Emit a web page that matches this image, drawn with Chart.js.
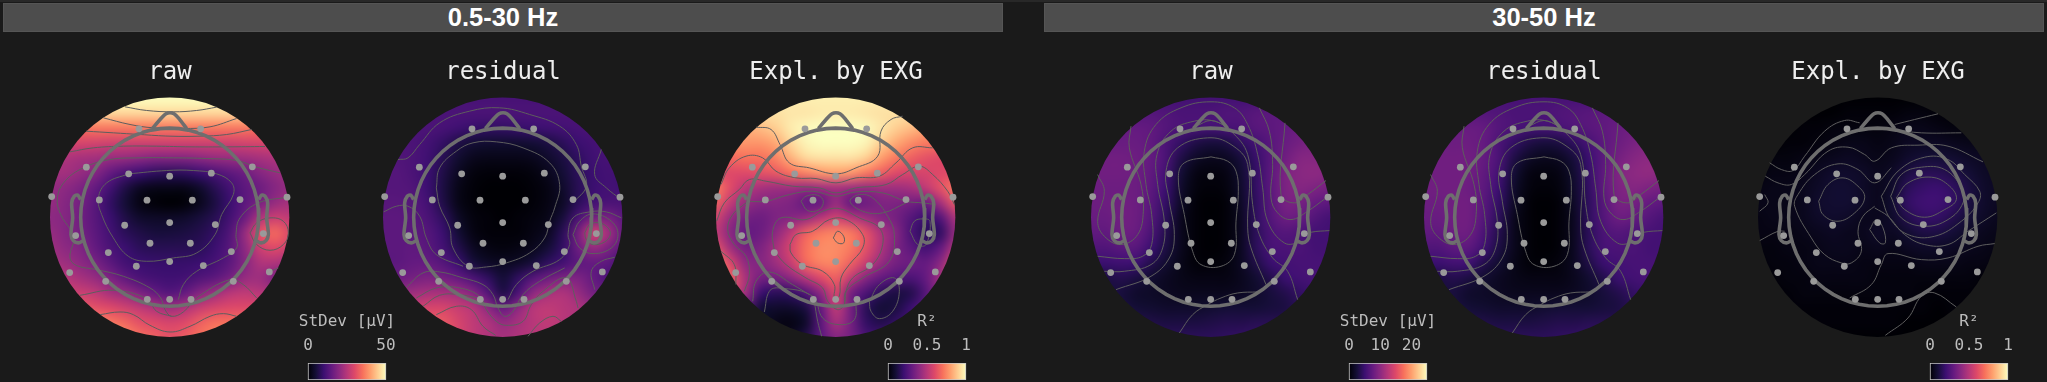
<!DOCTYPE html>
<html>
<head>
<meta charset="utf-8">
<title>EXG topomaps</title>
<script src="https://cdn.jsdelivr.net/npm/chart.js@4/dist/chart.umd.min.js"></script>
<style>
  html, body { margin: 0; padding: 0; background: #1a1a1a; }
  body { position: relative; width: 2047px; height: 382px; overflow: hidden; }
  canvas { position: absolute; }
  .band {
    position: absolute; top: 3px; height: 27px; padding: 0;
    background: #4d4d4d; border: 1px solid #555; box-sizing: content-box;
    color: #fff; text-align: center; font: bold 25.5px/27px "Liberation Sans", sans-serif;
  }
  #strip { position: absolute; left: 0; top: 0; width: 2047px; height: 2px; background: #282828; }
</style>
</head>
<body>
<div id="strip"></div>
<div class="band" style="left:3px;width:998px">0.5-30 Hz</div>
<div class="band" style="left:1044px;width:998px">30-50 Hz</div>

<script>
// all head coordinates are on a 0-780 grid (3 units per screen pixel), y going down
const gridCols = [30, 75, 120, 165, 210, 255, 300, 345, 390, 435, 480, 525, 570, 615, 660, 705, 750];
const gridRows = [30, 75, 120, 165, 210, 255, 300, 345, 390, 435, 480, 525, 570, 615, 660, 705, 750];

// sensor positions
const sensorX = [297, 482, 139, 266, 389, 514, 637, 35, 178, 321, 457, 600, 741, 107, 254, 389, 526, 670, 330, 451, 205, 574, 89, 289, 389, 490, 688, 197, 580, 322, 389, 453];
const sensorY = [123, 123, 238, 258, 265, 256, 237, 326, 336, 337, 337, 335, 328, 443, 412, 404, 410, 437, 466, 466, 494, 491, 554, 535, 521, 533, 552, 580, 580, 634, 634, 634];

// head drawing
const headCenter = [389, 388];
const headRadius = 267;
const scalpRadius = 359;
const nose = [[337, 122], [365, 90], [378, 78], [390, 75], [402, 78], [415, 90], [440, 122]];
const earLeft = [[122, 335], [113, 322], [103, 325], [95, 345], [98, 390], [93, 440], [100, 458], [115, 465], [130, 458]];
const earRight = [[656, 335], [665, 322], [675, 325], [683, 345], [680, 390], [685, 440], [678, 458], [663, 465], [648, 458]];

// heat values, % of the colorbar range, one row per gridRows entry
const gridRaw05 = [
  [100, 100, 100, 100, 100, 100, 100, 100, 100, 100, 100, 100, 100, 100, 100, 100, 100],
  [90, 90, 90, 91, 92, 92, 92, 92, 92, 92, 92, 92, 92, 91, 90, 90, 90],
  [70, 70, 70, 72, 72, 72, 72, 72, 72, 72, 72, 72, 72, 72, 70, 70, 70],
  [58, 58, 58, 57, 56, 56, 56, 56, 56, 56, 56, 56, 56, 57, 58, 58, 58],
  [48, 48, 46, 45, 43, 42, 40, 38, 38, 38, 40, 42, 43, 44, 46, 48, 48],
  [45, 45, 42, 38, 30, 24, 20, 17, 16, 17, 20, 24, 28, 32, 38, 42, 45],
  [42, 40, 36, 30, 22, 13, 6, 4, 4, 4, 8, 15, 22, 28, 32, 38, 42],
  [42, 38, 34, 27, 18, 10, 3, 1, 0, 1, 5, 12, 20, 28, 35, 42, 46],
  [40, 38, 33, 27, 20, 13, 8, 7, 7, 8, 11, 15, 22, 32, 48, 55, 52],
  [42, 38, 34, 28, 22, 16, 13, 11, 11, 12, 14, 18, 25, 42, 62, 68, 60],
  [44, 40, 37, 30, 24, 20, 16, 15, 15, 15, 16, 20, 27, 40, 55, 60, 55],
  [46, 44, 40, 35, 28, 22, 20, 19, 19, 19, 20, 23, 28, 38, 48, 48, 44],
  [50, 50, 46, 42, 36, 29, 24, 22, 21, 22, 25, 28, 34, 42, 44, 36, 36],
  [56, 56, 55, 52, 46, 42, 36, 30, 26, 30, 38, 44, 50, 52, 50, 48, 48],
  [65, 65, 65, 62, 60, 56, 52, 48, 44, 48, 54, 58, 60, 60, 60, 58, 58],
  [80, 80, 80, 78, 72, 68, 62, 60, 58, 60, 66, 70, 70, 72, 70, 70, 70],
  [85, 85, 85, 85, 82, 76, 70, 66, 62, 65, 70, 74, 76, 76, 76, 76, 76]
];
const gridResidual05 = [
  [23, 23, 23, 23, 23, 23, 23, 23, 23, 23, 23, 23, 23, 23, 23, 23, 23],
  [24, 24, 24, 24, 24, 24, 24, 24, 24, 24, 24, 24, 24, 24, 24, 24, 24],
  [24, 24, 24, 24, 23, 21, 19, 18, 18, 19, 20, 21, 22, 23, 24, 24, 24],
  [26, 25, 24, 22, 18, 13, 10, 9, 9, 9, 10, 12, 16, 20, 22, 24, 24],
  [25, 25, 24, 21, 15, 9, 5, 4, 4, 4, 5, 8, 12, 17, 21, 23, 22],
  [26, 26, 24, 20, 13, 6, 2, 1, 1, 1, 2, 5, 10, 16, 20, 22, 21],
  [26, 26, 25, 20, 12, 4, 1, 0, 0, 0, 1, 3, 8, 15, 20, 22, 21],
  [27, 27, 26, 22, 13, 4, 1, 0, 0, 0, 1, 3, 7, 16, 22, 24, 24],
  [28, 28, 27, 24, 17, 7, 2, 1, 0, 1, 2, 4, 11, 24, 34, 35, 28],
  [28, 28, 28, 26, 20, 10, 3, 1, 1, 1, 3, 6, 16, 34, 56, 45, 30],
  [28, 28, 29, 27, 22, 14, 6, 3, 2, 3, 5, 10, 18, 32, 42, 36, 28],
  [28, 28, 30, 30, 26, 20, 11, 7, 6, 7, 11, 17, 22, 28, 30, 28, 22],
  [32, 32, 34, 36, 34, 30, 24, 17, 10, 17, 26, 32, 36, 36, 30, 24, 24],
  [42, 42, 44, 46, 46, 44, 38, 26, 13, 24, 40, 46, 48, 42, 34, 32, 32],
  [55, 55, 55, 58, 58, 54, 50, 40, 30, 40, 50, 52, 50, 48, 42, 40, 40],
  [65, 65, 65, 65, 64, 58, 52, 48, 42, 46, 50, 52, 50, 46, 44, 44, 44],
  [72, 72, 72, 70, 64, 58, 52, 48, 46, 48, 50, 50, 48, 46, 46, 46, 46]
];
const gridExpl05 = [
  [97, 97, 97, 97, 97, 97, 97, 97, 97, 97, 97, 97, 97, 97, 97, 97, 97],
  [94, 94, 94, 94, 94, 95, 95, 96, 96, 96, 95, 94, 94, 94, 92, 90, 90],
  [84, 84, 84, 86, 90, 96, 99, 100, 100, 100, 99, 95, 90, 86, 82, 80, 80],
  [78, 78, 78, 78, 82, 92, 98, 100, 100, 100, 98, 90, 82, 76, 72, 72, 72],
  [68, 68, 70, 70, 74, 84, 92, 94, 94, 94, 90, 80, 72, 66, 62, 60, 60],
  [60, 60, 60, 62, 64, 70, 74, 78, 80, 78, 72, 66, 60, 58, 58, 60, 60],
  [72, 60, 50, 46, 44, 44, 42, 44, 46, 44, 42, 44, 44, 46, 52, 62, 72],
  [66, 52, 42, 38, 38, 36, 30, 30, 42, 30, 32, 36, 36, 34, 32, 46, 64],
  [56, 42, 34, 32, 36, 38, 42, 50, 56, 50, 44, 38, 34, 26, 20, 26, 48],
  [52, 38, 30, 32, 40, 52, 66, 72, 74, 72, 62, 48, 38, 24, 16, 18, 42],
  [62, 44, 34, 36, 46, 58, 70, 76, 76, 72, 62, 48, 36, 28, 22, 30, 50],
  [74, 58, 40, 38, 44, 54, 68, 74, 74, 66, 54, 42, 34, 32, 30, 40, 62],
  [76, 66, 46, 34, 34, 40, 50, 60, 66, 52, 38, 30, 26, 24, 30, 46, 68],
  [70, 60, 44, 20, 16, 18, 26, 40, 58, 34, 24, 16, 12, 14, 26, 44, 60],
  [70, 50, 30, 10, 8, 8, 12, 30, 52, 34, 16, 10, 12, 20, 30, 44, 50],
  [60, 40, 24, 10, 4, 3, 8, 28, 46, 34, 18, 14, 18, 24, 30, 40, 40],
  [40, 30, 20, 14, 6, 6, 14, 28, 38, 34, 24, 22, 24, 26, 30, 36, 36]
];
const gridRaw30 = [
  [22, 22, 22, 22, 22, 22, 22, 22, 22, 22, 22, 22, 22, 22, 22, 22, 22],
  [26, 26, 26, 26, 26, 25, 24, 24, 24, 25, 25, 27, 28, 28, 28, 28, 28],
  [30, 30, 30, 30, 29, 26, 24, 23, 22, 23, 24, 27, 28, 30, 32, 34, 34],
  [31, 31, 31, 31, 29, 24, 18, 13, 11, 12, 17, 22, 27, 31, 34, 36, 36],
  [33, 33, 33, 32, 30, 24, 13, 7, 5, 6, 11, 19, 27, 33, 38, 38, 38],
  [33, 33, 33, 32, 29, 22, 10, 3, 2, 3, 9, 18, 28, 36, 39, 40, 38],
  [32, 32, 32, 32, 28, 20, 8, 2, 1, 2, 8, 18, 28, 36, 38, 36, 34],
  [32, 32, 33, 32, 27, 18, 7, 1, 0, 1, 7, 17, 27, 35, 34, 30, 28],
  [31, 31, 33, 32, 26, 16, 5, 1, 0, 1, 6, 17, 26, 32, 30, 25, 22],
  [29, 29, 32, 31, 24, 14, 5, 1, 0, 1, 6, 16, 24, 26, 24, 22, 22],
  [25, 25, 27, 27, 20, 12, 5, 1, 0, 1, 6, 16, 23, 24, 24, 22, 22],
  [20, 20, 21, 20, 14, 9, 4, 1, 1, 2, 6, 13, 20, 22, 23, 23, 23],
  [12, 12, 14, 12, 9, 6, 4, 3, 3, 3, 5, 9, 14, 20, 22, 23, 23],
  [12, 12, 11, 8, 7, 6, 5, 5, 5, 5, 6, 8, 11, 14, 18, 20, 20],
  [14, 14, 12, 10, 9, 8, 8, 8, 9, 10, 10, 10, 11, 12, 16, 18, 18],
  [16, 16, 16, 14, 13, 12, 12, 12, 13, 14, 14, 15, 15, 15, 16, 16, 16],
  [18, 18, 18, 16, 16, 16, 16, 16, 16, 17, 18, 18, 18, 18, 18, 18, 18]
];
const gridResidual30 = [
  [23, 23, 23, 23, 23, 23, 23, 23, 23, 23, 23, 23, 23, 23, 23, 23, 23],
  [27, 27, 27, 27, 26, 25, 24, 24, 24, 25, 26, 27, 28, 29, 29, 29, 29],
  [31, 31, 31, 31, 30, 26, 24, 22, 22, 23, 25, 27, 29, 31, 33, 35, 35],
  [32, 32, 32, 32, 30, 24, 18, 13, 11, 12, 17, 23, 28, 32, 35, 37, 37],
  [33, 33, 33, 33, 30, 24, 13, 7, 5, 6, 11, 20, 28, 34, 38, 40, 40],
  [33, 33, 33, 33, 29, 22, 10, 3, 2, 3, 9, 19, 29, 37, 40, 41, 39],
  [33, 33, 33, 32, 28, 20, 8, 2, 1, 2, 8, 18, 29, 36, 38, 36, 34],
  [32, 32, 33, 33, 27, 18, 7, 1, 0, 1, 7, 17, 27, 35, 34, 30, 28],
  [31, 31, 33, 33, 26, 16, 5, 1, 0, 1, 6, 17, 26, 32, 30, 26, 23],
  [29, 29, 32, 32, 24, 14, 5, 1, 0, 1, 6, 16, 24, 26, 24, 23, 22],
  [25, 25, 28, 28, 21, 12, 5, 1, 0, 1, 6, 16, 23, 24, 24, 22, 22],
  [20, 20, 22, 21, 14, 9, 4, 1, 1, 2, 6, 13, 20, 22, 23, 23, 23],
  [12, 12, 14, 12, 9, 6, 4, 3, 3, 3, 5, 9, 14, 20, 22, 23, 23],
  [12, 12, 11, 8, 7, 6, 5, 5, 5, 5, 6, 8, 11, 14, 18, 20, 20],
  [14, 14, 12, 10, 9, 8, 8, 8, 9, 10, 10, 10, 11, 12, 16, 18, 18],
  [16, 16, 16, 14, 13, 12, 12, 12, 13, 14, 14, 15, 15, 15, 16, 16, 16],
  [18, 18, 18, 16, 16, 16, 16, 16, 16, 17, 18, 18, 18, 18, 18, 18, 18]
];
const gridExpl30 = [
  [0, 0, 0, 0, 0, 0, 0, 0, 0, 0, 0, 0, 0, 0, 0, 0, 0],
  [0, 0, 0, 0, 0, 0, 1, 1, 1, 1, 2, 2, 1, 1, 1, 1, 1],
  [0, 0, 0, 1, 1, 2, 2, 2, 2, 3, 4, 4, 3, 2, 2, 2, 2],
  [0, 0, 1, 1, 2, 3, 4, 4, 3, 4, 6, 6, 6, 5, 4, 4, 4],
  [1, 2, 2, 3, 4, 5, 6, 5, 4, 5, 8, 10, 10, 9, 7, 6, 5],
  [2, 3, 3, 4, 6, 8, 8, 7, 5, 7, 12, 15, 15, 13, 10, 7, 6],
  [3, 4, 4, 5, 7, 9, 9, 7, 5, 8, 16, 19, 20, 17, 12, 8, 6],
  [4, 4, 4, 5, 8, 9, 9, 7, 5, 9, 18, 21, 21, 18, 12, 8, 6],
  [3, 4, 4, 5, 7, 8, 7, 5, 5, 8, 14, 18, 18, 14, 10, 7, 5],
  [3, 3, 3, 4, 5, 6, 5, 5, 7, 6, 9, 12, 12, 10, 7, 5, 4],
  [2, 2, 3, 3, 4, 5, 5, 4, 5, 4, 6, 7, 7, 6, 5, 4, 3],
  [1, 2, 2, 3, 4, 4, 4, 3, 3, 3, 3, 4, 4, 4, 3, 3, 2],
  [1, 1, 2, 2, 3, 3, 3, 3, 2, 2, 2, 2, 2, 2, 2, 1, 1],
  [1, 1, 1, 2, 2, 2, 2, 2, 2, 2, 2, 1, 1, 1, 1, 1, 1],
  [0, 1, 1, 1, 1, 1, 1, 1, 1, 1, 1, 1, 0, 1, 1, 1, 0],
  [0, 0, 0, 0, 1, 1, 1, 1, 1, 1, 0, 0, 0, 0, 0, 0, 0],
  [0, 0, 0, 0, 0, 0, 0, 0, 0, 0, 0, 0, 0, 0, 0, 0, 0]
];

// contour lines
const contourRaw05 = [
  [[255, 57], [320, 68], [400, 72], [470, 68], [530, 58]],
  [[190, 90], [270, 110], [340, 120], [430, 122], [510, 117], [590, 92]],
  [[138, 130], [220, 135], [300, 140], [390, 145], [480, 145], [560, 140], [635, 125]],
  [[90, 192], [160, 180], [250, 175], [350, 175], [450, 177], [560, 177], [675, 176]],
  [[92, 425], [62, 380], [52, 330], [75, 280], [130, 240], [210, 215], [300, 210], [400, 210], [500, 212], [590, 218], [650, 238], [720, 255]],
  [[100, 465], [90, 510], [110, 533], [170, 545], [250, 565], [330, 600], [362, 630], [375, 665], [395, 685], [430, 672], [470, 630], [570, 575], [610, 590], [650, 630]],
  [[265, 258], [200, 285], [175, 330], [185, 380], [220, 450], [265, 505], [320, 520], [400, 510], [470, 495], [525, 440], [545, 380], [580, 320], [575, 285], [530, 258], [460, 248], [380, 248], [265, 258]],
  [[740, 328], [655, 345], [600, 390], [588, 440], [590, 480], [550, 510], [470, 550], [430, 590], [415, 635]],
  [[630, 435], [650, 405], [690, 390], [730, 400], [745, 435], [730, 470], [690, 487], [650, 470], [630, 435]],
  [[120, 622], [220, 607], [320, 632], [350, 670], [395, 685]],
  [[180, 680], [240, 672], [280, 680], [330, 712], [390, 732], [450, 715], [510, 685], [550, 677], [590, 685]],
  [[680, 555], [715, 540]]
];
const contourResidual05 = [
  [[75, 215], [105, 210], [140, 170], [200, 105], [290, 70], [380, 60], [470, 80], [560, 115], [610, 170], [625, 235], [640, 295], [600, 345]],
  [[745, 390], [700, 372], [650, 372], [600, 390], [585, 440], [590, 470], [560, 515], [480, 550], [430, 590], [405, 635]],
  [[685, 185], [665, 260], [700, 300], [745, 335]],
  [[190, 300], [200, 240], [250, 190], [300, 165], [370, 162], [450, 180], [530, 225], [560, 290], [545, 360], [530, 400], [515, 450], [470, 495], [400, 525], [340, 537], [285, 535], [240, 480], [230, 420], [200, 355], [190, 300]],
  [[600, 440], [620, 400], [660, 378], [715, 400], [735, 440], [715, 480], [660, 497], [620, 480], [600, 440]],
  [[635, 435], [650, 410], [680, 405], [705, 420], [712, 440], [695, 462], [660, 470], [640, 455], [635, 435]],
  [[32, 372], [70, 355], [105, 355], [140, 385], [160, 450], [190, 500], [270, 535]],
  [[100, 598], [150, 555], [200, 552], [270, 570], [330, 590], [360, 620], [375, 660], [395, 685], [420, 670], [450, 620], [500, 580], [575, 540]],
  [[130, 630], [190, 600], [260, 600], [320, 625], [340, 665], [370, 700], [400, 712], [450, 700], [475, 650], [510, 610], [580, 570], [610, 640], [615, 660]],
  [[190, 680], [250, 655], [295, 665], [330, 715], [368, 742]],
  [[465, 745], [500, 705], [540, 685], [565, 700]],
  [[665, 605], [655, 550], [685, 520], [725, 508]],
  [[150, 655], [200, 622], [260, 620], [320, 632]]
];
const contourExpl05 = [
  [[150, 118], [195, 125], [222, 170], [250, 225], [310, 240], [390, 258], [450, 240], [515, 205], [525, 130], [555, 95], [590, 85]],
  [[45, 290], [70, 240], [120, 205], [170, 210], [210, 250], [270, 270], [330, 272], [390, 285], [450, 270], [520, 265], [570, 225], [620, 180], [680, 180]],
  [[32, 400], [55, 345], [100, 305], [130, 275], [180, 280], [260, 295], [340, 300], [390, 315], [450, 300], [540, 290], [590, 260], [640, 235], [680, 260], [725, 310], [745, 350]],
  [[120, 340], [180, 340], [250, 320], [320, 310], [390, 325], [450, 312], [530, 315], [600, 340], [650, 345], [690, 350]],
  [[285, 340], [300, 325], [335, 322], [352, 340], [340, 365], [305, 368], [285, 340]],
  [[600, 345], [530, 375], [470, 370], [432, 340], [460, 320], [500, 330], [545, 385], [565, 440], [550, 520], [470, 570], [420, 610], [415, 650]],
  [[490, 640], [520, 590], [565, 570], [580, 610], [560, 670], [520, 692], [495, 670], [490, 640]],
  [[120, 345], [80, 380], [65, 425], [85, 470], [120, 505], [130, 560], [115, 610]],
  [[45, 490], [85, 530], [90, 590]],
  [[205, 490], [200, 430], [225, 390], [300, 395], [350, 370], [400, 362], [460, 390], [520, 420], [530, 470], [500, 530], [440, 570], [420, 610], [415, 650], [395, 665], [365, 640], [350, 600], [300, 570], [240, 530], [205, 490]],
  [[252, 470], [270, 440], [320, 430], [370, 395], [420, 395], [470, 440], [470, 480], [430, 530], [405, 570], [400, 625], [385, 630], [385, 590], [350, 550], [290, 530], [255, 495], [252, 470]],
  [[382, 450], [395, 430], [413, 445], [413, 465], [395, 465], [382, 450]],
  [[612, 430], [625, 400], [650, 393], [672, 400], [660, 470], [635, 470], [612, 430]],
  [[175, 672], [190, 610], [220, 600], [320, 625], [350, 690], [400, 710], [445, 695], [450, 640]],
  [[325, 640], [335, 700], [347, 745]],
  [[140, 640], [150, 580], [190, 552], [260, 590], [310, 620]]
];
const contourRaw30 = [
  [[150, 115], [145, 180], [180, 290], [187, 370], [170, 440], [120, 470], [70, 445], [50, 400], [70, 310], [50, 260]],
  [[50, 505], [130, 512], [185, 505], [212, 470], [212, 380], [195, 290], [190, 190], [225, 110], [300, 60], [390, 42], [460, 60], [500, 110], [530, 200], [545, 300], [560, 400], [610, 465], [660, 465]],
  [[70, 550], [130, 550], [210, 530], [245, 480], [250, 400], [230, 290], [228, 200], [270, 130], [340, 100], [400, 100], [450, 130], [500, 200], [515, 350], [535, 440], [575, 510], [620, 550], [650, 635]],
  [[105, 605], [210, 565], [265, 510], [280, 440], [265, 340], [255, 250], [290, 180], [380, 150], [450, 170], [500, 230], [500, 420], [510, 480], [555, 590]],
  [[390, 207], [310, 225], [292, 270], [310, 380], [335, 490], [360, 530], [420, 535], [460, 500], [465, 400], [472, 310], [465, 250], [440, 220], [390, 207]],
  [[535, 60], [565, 130], [575, 230], [570, 330], [590, 375], [630, 395], [680, 370], [735, 330]],
  [[612, 105], [600, 320], [640, 345], [680, 320], [735, 278]],
  [[745, 428], [690, 433], [660, 445]],
  [[295, 735], [335, 680], [380, 650], [420, 630], [470, 615], [530, 612]],
  [[345, 115], [390, 98], [435, 115]]
];
const contourResidual30 = contourRaw30;
const contourExpl30 = [
  [[65, 225], [100, 245], [135, 248], [170, 205], [230, 130], [290, 98], [335, 105]],
  [[440, 110], [500, 95], [570, 78]],
  [[52, 265], [90, 285], [130, 290], [170, 260], [240, 190], [300, 178], [350, 200], [380, 220], [430, 180], [510, 172], [600, 175], [705, 222]],
  [[435, 125], [520, 135], [640, 135]],
  [[445, 330], [480, 285], [550, 268], [605, 295], [625, 335], [590, 365], [530, 388], [470, 365], [445, 330]],
  [[428, 325], [460, 260], [520, 238], [590, 245], [640, 300], [645, 345], [600, 395], [530, 415], [460, 390], [428, 325]],
  [[400, 325], [450, 250], [530, 208], [600, 215], [650, 260], [695, 310], [690, 345], [640, 400], [560, 445], [480, 440], [425, 390], [400, 325]],
  [[380, 355], [345, 385], [330, 430], [340, 490], [310, 525], [280, 525], [230, 500], [190, 450], [140, 355], [150, 320], [200, 260], [270, 228], [330, 245], [380, 285], [430, 240]],
  [[380, 360], [420, 385], [470, 440], [530, 470], [600, 470], [660, 430], [745, 375]],
  [[212, 340], [240, 290], [285, 270], [330, 295], [350, 330], [320, 375], [270, 400], [225, 380], [212, 340]],
  [[365, 425], [385, 395], [405, 420], [412, 465], [395, 465], [365, 425]],
  [[305, 630], [370, 590], [400, 530], [420, 497], [520, 515], [600, 510], [690, 475], [740, 467]],
  [[412, 742], [480, 690], [520, 625], [560, 615], [625, 657]],
  [[35, 458], [90, 430], [110, 430]],
  [[35, 370], [60, 345], [50, 320]]
];

// colorbars
const stdevTicks05 = [0, 50];
const stdevTicks30 = [0, 10, 20];
const r2Ticks = [0, 0.5, 1];
const magmaStops = ['#000004', '#140e36', '#3b0f70', '#641a80', '#8c2981', '#b73779', '#de4968', '#f7705c', '#fe9f6d', '#fecf92', '#fcfdbf'];

function magma(pct) {
  const pos = Math.min(Math.max(pct, 0), 100) / 10;
  const i = Math.min(Math.floor(pos), 9);
  const a = magmaStops[i], b = magmaStops[i + 1];
  const mix = (s) => {
    const va = parseInt(a.substr(s, 2), 16), vb = parseInt(b.substr(s, 2), 16);
    return Math.round(va + (vb - va) * (pos - i));
  };
  return `rgb(${mix(1)},${mix(3)},${mix(5)})`;
}

// paints the last dataset as an image of its cells, smoothed like imshow, cut to the scalp circle
const smoothCells = {
  id: 'smoothCells',
  beforeDatasetDraw(chart, args) {
    if (args.index !== chart.data.datasets.length - 1) return;
    const off = document.createElement('canvas');
    off.width = gridCols.length;
    off.height = gridRows.length;
    const octx = off.getContext('2d');
    chart.data.datasets[args.index].data.forEach((cell) => {
      octx.fillStyle = magma(cell.v);
      octx.fillRect(cell.col, cell.row, 1, 1);
    });
    const sx = chart.scales.x, sy = chart.scales.y;
    const halfX = (gridCols[1] - gridCols[0]) / 2, halfY = (gridRows[1] - gridRows[0]) / 2;
    const x0 = sx.getPixelForValue(gridCols[0] - halfX);
    const x1 = sx.getPixelForValue(gridCols[gridCols.length - 1] + halfX);
    const y0 = sy.getPixelForValue(gridRows[0] - halfY);
    const y1 = sy.getPixelForValue(gridRows[gridRows.length - 1] + halfY);
    const ctx = chart.ctx;
    ctx.save();
    ctx.beginPath();
    ctx.arc(sx.getPixelForValue(headCenter[0]), sy.getPixelForValue(headCenter[1]),
      sx.getPixelForValue(scalpRadius) - sx.getPixelForValue(0), 0, Math.PI * 2);
    ctx.clip();
    ctx.imageSmoothingEnabled = true;
    ctx.imageSmoothingQuality = 'high';
    ctx.drawImage(off, x0, y0, x1 - x0, y1 - y0);
    ctx.restore();
    return false;
  }
};

function lineSet(points, color, width, tension) {
  return {
    type: 'scatter', showLine: true, tension: tension,
    data: points.map((p) => ({ x: p[0], y: p[1] })),
    borderColor: color, borderWidth: width, pointRadius: 0, fill: false
  };
}

function makeCanvas(left, top, width, height) {
  const c = document.createElement('canvas');
  c.width = width;
  c.height = height;
  c.style.left = left + 'px';
  c.style.top = top + 'px';
  document.body.appendChild(c);
  return c;
}

const headColor = '#6e6e6e';
const headPoints = [];
for (let deg = 0; deg <= 360; deg += 6) {
  headPoints.push([headCenter[0] + headRadius * Math.cos(deg * Math.PI / 180), headCenter[1] + headRadius * Math.sin(deg * Math.PI / 180)]);
}

function buildTopomap(left, title, grid, contours) {
  const cells = [];
  grid.forEach((row, j) => row.forEach((v, i) => {
    cells.push({ x: gridCols[i], y: gridRows[j], v: v, col: i, row: j });
  }));
  const datasets = [
    // first dataset ends up on top
    {
      data: sensorX.map((x, i) => ({ x: x, y: sensorY[i] })),
      backgroundColor: '#9a9a9a', borderWidth: 0, pointRadius: 3.4
    },
    lineSet(headPoints, headColor, 3.6, 0),
    lineSet(nose, headColor, 3.6, 0.2),
    lineSet(earLeft, headColor, 3.6, 0.3),
    lineSet(earRight, headColor, 3.6, 0.3)
  ];
  contours.forEach((c) => datasets.push(lineSet(c, '#5e5e5e', 1, 0.4)));
  datasets.push({ data: cells, pointRadius: 0 });

  new Chart(makeCanvas(left, 58, 260, 290), {
    type: 'scatter',
    data: { datasets: datasets },
    plugins: [smoothCells],
    options: {
      responsive: false,
      animation: false,
      devicePixelRatio: 1,
      layout: { padding: 0, autoPadding: false },
      scales: {
        x: { type: 'linear', min: 0, max: 780, display: false },
        y: { type: 'linear', min: 0, max: 780, reverse: true, display: false }
      },
      plugins: {
        legend: { display: false },
        tooltip: { enabled: false },
        title: {
          display: true,
          text: title,
          color: '#eeeeee',
          font: { family: '"DejaVu Sans Mono", monospace', size: 24, weight: 'normal' },
          padding: { top: 0, bottom: 1 }
        }
      }
    }
  });
}

function buildColorbar(left, label, ticks, max) {
  // 50 px of empty axis on each side so the chart title and tick labels get the full canvas width
  const side = 50, barWidth = 78;
  const extra = max * side / barWidth;
  const monoFont = { family: '"DejaVu Sans Mono", monospace', size: 16, weight: 'normal' };
  new Chart(makeCanvas(left - side, 310, barWidth + side * 2, 72), {
    type: 'bar',
    data: {
      labels: [label],
      datasets: [{
        data: [[0, max]],
        barPercentage: 1,
        categoryPercentage: 1,
        borderColor: '#c8c8c8',
        borderWidth: 1,
        borderSkipped: false,
        backgroundColor(context) {
          const chart = context.chart;
          if (!chart.chartArea) return magmaStops[0];
          const g = chart.ctx.createLinearGradient(chart.scales.x.getPixelForValue(0), 0, chart.scales.x.getPixelForValue(max), 0);
          magmaStops.forEach((c, i) => g.addColorStop(i / (magmaStops.length - 1), c));
          return g;
        }
      }]
    },
    options: {
      indexAxis: 'y',
      responsive: false,
      animation: false,
      devicePixelRatio: 1,
      layout: { padding: { left: 0, right: 0, bottom: 2, top: 0 }, autoPadding: false },
      scales: {
        y: { display: false },
        x: {
          type: 'linear', position: 'top', min: -extra, max: max + extra,
          grid: { display: false, drawTicks: false },
          border: { display: false },
          afterBuildTicks(scale) { scale.ticks = ticks.map((v) => ({ value: v })); },
          ticks: {
            color: '#bdbdbd', font: monoFont, padding: 8, maxRotation: 0, autoSkip: false,
            callback: (v) => String(v)
          }
        }
      },
      plugins: {
        legend: { display: false },
        tooltip: { enabled: false },
        title: { display: true, text: label, color: '#bdbdbd', font: monoFont, padding: { top: 2.4, bottom: -3.6 } }
      }
    }
  });
}

buildTopomap(40, 'raw', gridRaw05, contourRaw05);
buildTopomap(373, 'residual', gridResidual05, contourResidual05);
buildTopomap(706, 'Expl. by EXG', gridExpl05, contourExpl05);
buildTopomap(1081, 'raw', gridRaw30, contourRaw30);
buildTopomap(1414, 'residual', gridResidual30, contourResidual30);
buildTopomap(1748, 'Expl. by EXG', gridExpl30, contourExpl30);

buildColorbar(308, 'StDev [μV]', stdevTicks05, 50);
buildColorbar(888, 'R²', r2Ticks, 1);
buildColorbar(1349, 'StDev [μV]', stdevTicks30, 25);
buildColorbar(1930, 'R²', r2Ticks, 1);
</script>
</body>
</html>
